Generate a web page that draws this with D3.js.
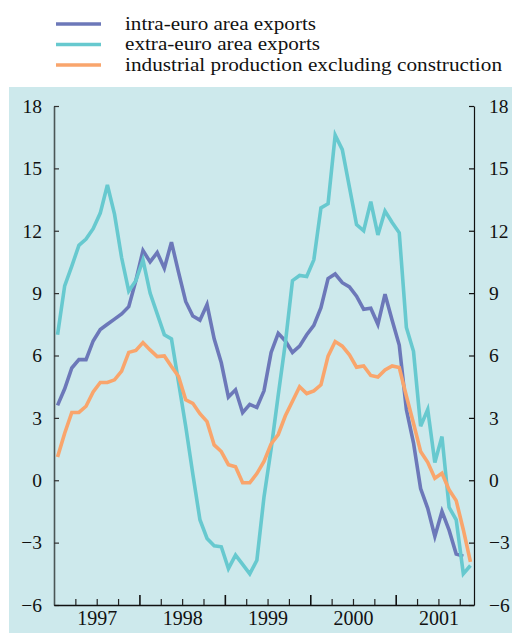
<!DOCTYPE html>
<html><head><meta charset="utf-8">
<script src="https://cdn.jsdelivr.net/npm/d3@7"></script>
<style>body{margin:0;background:#fff;}svg{display:block;}</style>
</head><body>
<script>
const seriesNames = ["intra-euro area exports","extra-euro area exports","industrial production excluding construction"];
const seriesColors = ["#6c78b9","#67c9cf","#f9a56c"];
const yearLabels = ["1997","1998","1999","2000","2001"];
const yTicks = [-6,-3,0,3,6,9,12,15,18];
// monthly values, Jan 1997 onwards
const intra = [3.6,4.4,5.4,5.8,5.8,6.7,7.25,7.5,7.75,8.0,8.35,9.6,11.05,10.5,10.95,10.2,11.45,10.0,8.6,7.9,7.7,8.45,6.8,5.65,4.0,4.35,3.25,3.65,3.5,4.3,6.15,7.07,6.7,6.15,6.45,7.0,7.45,8.3,9.7,9.92,9.5,9.3,8.85,8.22,8.27,7.5,8.95,7.7,6.5,3.4,1.8,-0.4,-1.35,-2.7,-1.5,-2.4,-3.55,-3.65];
const extra = [7.0,9.35,10.3,11.3,11.6,12.1,12.85,14.2,12.8,10.7,9.1,9.6,10.6,9.0,8.0,7.0,6.8,4.7,2.6,0.3,-1.9,-2.8,-3.15,-3.2,-4.25,-3.6,-4.05,-4.5,-3.85,-0.8,1.5,4.1,6.6,9.6,9.85,9.8,10.6,13.1,13.3,16.6,15.9,14.1,12.3,12.0,13.4,11.8,12.95,12.4,11.9,7.35,6.2,2.6,3.4,0.85,2.1,-1.3,-1.9,-4.5,-4.1];
const indprod = [1.12,2.26,3.26,3.26,3.56,4.25,4.7,4.7,4.83,5.25,6.15,6.24,6.62,6.27,5.95,5.98,5.47,4.99,3.87,3.7,3.2,2.82,1.7,1.38,0.75,0.65,-0.12,-0.12,0.32,0.9,1.75,2.2,3.1,3.8,4.5,4.17,4.3,4.59,5.97,6.67,6.45,6.03,5.44,5.5,5.04,4.96,5.3,5.5,5.42,4.05,2.74,1.38,0.86,0.1,0.34,-0.46,-0.98,-2.38,-3.93];
const allSeries = [intra, extra, indprod];
const nMonths = 59;

const W = 512, H = 633;
const svg = d3.select("body").append("svg").attr("width", W).attr("height", H);
const font = "'Liberation Serif','Times New Roman',serif";

svg.append("rect").attr("x", 9).attr("y", 87).attr("width", W - 9).attr("height", H - 87).attr("fill", "#cde9ec");

const x = d3.scaleLinear().domain([0, nMonths]).range([54, 474]);
const y = d3.scaleLinear().domain([-6, 18]).range([605, 106]);

// legend
const legendWidths = [191, 195, 377];
const lg = svg.append("g");
seriesNames.forEach((name, i) => {
  const yy = 24 + i * 20.5;
  lg.append("line").attr("x1", 56).attr("x2", 101).attr("y1", yy).attr("y2", yy)
    .attr("stroke", seriesColors[i]).attr("stroke-width", 3.5);
  lg.append("text").attr("x", 125).attr("y", yy + 5.5).text(name)
    .attr("font-family", font).attr("font-size", 18.5).attr("fill", "#111")
    .attr("textLength", legendWidths[i]).attr("lengthAdjust", "spacingAndGlyphs");
});

// lines
const line = d3.line().x((d, i) => x(i + 0.5)).y(d => y(d));
allSeries.forEach((s, i) => {
  svg.append("path").datum(s).attr("d", line).attr("fill", "none")
    .attr("stroke", seriesColors[i]).attr("stroke-width", 3.6).attr("stroke-linejoin", "miter");
});

// left axis
const gl = svg.append("g").attr("transform", "translate(54,0)")
  .call(d3.axisLeft(y).tickValues(yTicks).tickSize(-5).tickSizeOuter(0).tickPadding(12));
gl.select(".domain").attr("stroke", "#4a5656").attr("stroke-width", 1.6);
gl.selectAll(".tick line").attr("stroke", "#333").attr("stroke-width", 1.2);
gl.selectAll("text").attr("font-family", font).attr("font-size", 19.5).attr("fill", "#111");

// right axis
const gr = svg.append("g").attr("transform", "translate(474,0)")
  .call(d3.axisRight(y).tickValues(yTicks).tickSize(-5).tickSizeOuter(0).tickPadding(15));
gr.select(".domain").attr("stroke", "#111").attr("stroke-width", 1.2);
gr.selectAll(".tick line").attr("stroke", "#111").attr("stroke-width", 1.2);
gr.selectAll("text").attr("font-family", font).attr("font-size", 19.5).attr("fill", "#111");

// bottom axis: quarterly ticks
const quarters = d3.range(3, nMonths, 3).filter(v => v % 12 !== 0);
const yearStarts = d3.range(12, nMonths, 12);
const gb = svg.append("g").attr("transform", "translate(0,605)")
  .call(d3.axisBottom(x).tickValues(quarters).tickSize(-6).tickSizeOuter(0).tickFormat(""));
gb.select(".domain").attr("stroke", "#111").attr("stroke-width", 1.5);
gb.selectAll(".tick line").attr("stroke", "#222").attr("stroke-width", 1.2);
const gb2 = svg.append("g").attr("transform", "translate(0,605)")
  .call(d3.axisBottom(x).tickValues(yearStarts).tickSize(-10).tickSizeOuter(0).tickFormat(""));
gb2.select(".domain").remove();
gb2.selectAll(".tick line").attr("stroke", "#111").attr("stroke-width", 1.6);
const gb3 = svg.append("g").attr("transform", "translate(0,605)")
  .call(d3.axisBottom(x).tickValues(yearLabels.map((d, i) => 6 + 12 * i)).tickSize(0).tickPadding(6)
    .tickFormat((d, i) => yearLabels[i]));
gb3.select(".domain").remove();
gb3.selectAll("text").attr("font-family", font).attr("font-size", 20).attr("fill", "#111");
</script>
</body></html>
